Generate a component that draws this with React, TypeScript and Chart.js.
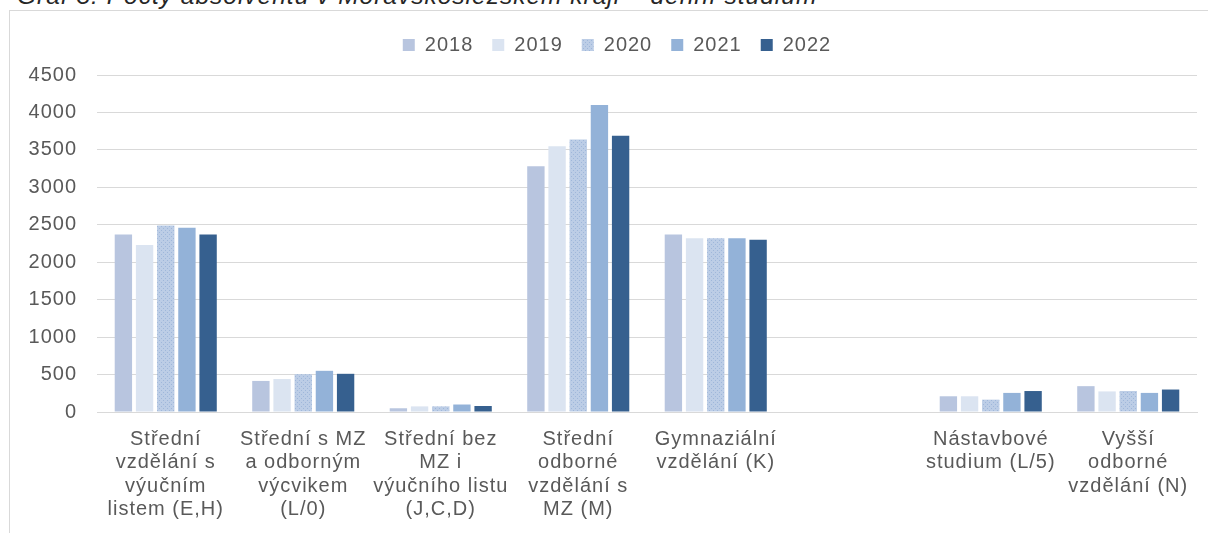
import React, { useEffect, useRef } from 'react';
import { Chart, registerables } from 'chart.js';

Chart.register(...registerables);

const titleText = 'Graf 3: Počty absolventů v Moravskoslezském kraji – denní studium';

const categories: string[][] = [
  ['Střední', 'vzdělání s', 'výučním', 'listem (E,H)'],
  ['Střední s MZ', 'a odborným', 'výcvikem', '(L/0)'],
  ['Střední bez', 'MZ i', 'výučního listu', '(J,C,D)'],
  ['Střední', 'odborné', 'vzdělání s', 'MZ (M)'],
  ['Gymnaziální', 'vzdělání (K)'],
  [''],
  ['Nástavbové', 'studium (L/5)'],
  ['Vyšší', 'odborné', 'vzdělání (N)'],
];

const years = ['2018', '2019', '2020', '2021', '2022'];

const values2018 = [2370, 415, 50, 3280, 2370, null, 210, 345];
const values2019 = [2230, 440, 75, 3550, 2320, null, 210, 275];
const values2020 = [2490, 505, 75, 3640, 2320, null, 165, 280];
const values2021 = [2460, 550, 100, 4100, 2320, null, 255, 255];
const values2022 = [2370, 510, 80, 3690, 2300, null, 280, 300];

const yMin = 0;
const yMax = 4500;
const yStep = 500;

const FONT = "'Liberation Sans', Arial, sans-serif";
const TEXT_COLOR = '#595959';
const GRID_COLOR = '#d9d9d9';

function makeDotPattern(): CanvasPattern | string {
  const c = document.createElement('canvas');
  c.width = 4;
  c.height = 4;
  const g = c.getContext('2d');
  if (!g) return '#b8cbe5';
  g.fillStyle = '#bccde6';
  g.fillRect(0, 0, 4, 4);
  g.fillStyle = '#9fb7da';
  g.fillRect(1, 1, 1, 1);
  g.fillRect(3, 3, 1, 1);
  const p = g.createPattern(c, 'repeat');
  return p || '#b8cbe5';
}

const spacingPlugin = {
  id: 'letterSpacingPlugin',
  beforeUpdate(chart: any) {
    chart.ctx.letterSpacing = '1px';
  },
  afterLayout(chart: any) {
    const lg = chart.legend;
    if (lg) {
      lg.left += 8.5;
      lg.right += 8.5;
    }
  },
  beforeDraw(chart: any) {
    chart.ctx.letterSpacing = '1px';
  },
};

export default function App() {
  const canvasRef = useRef<HTMLCanvasElement | null>(null);

  useEffect(() => {
    const canvas = canvasRef.current;
    if (!canvas) return;
    const pattern2020 = makeDotPattern();
    const seriesValues = [values2018, values2019, values2020, values2021, values2022];
    const colors: any[] = ['#b8c5df', '#dbe4f1', pattern2020, '#93b2d8', '#36608f'];

    const chart = new Chart(canvas, {
      type: 'bar',
      data: {
        labels: categories,
        datasets: years.map((y, i) => ({
          label: y,
          data: seriesValues[i],
          backgroundColor: colors[i],
          borderWidth: 0,
          categoryPercentage: 0.77,
          barPercentage: 0.82,
        })),
      },
      plugins: [spacingPlugin],
      options: {
        responsive: false,
        animation: false,
        devicePixelRatio: 1,
        layout: { padding: { left: 10, right: 11, top: 5, bottom: 0 } },
        plugins: {
          title: { display: false },
          subtitle: {
            display: true,
            text: '',
            position: 'top',
            weight: 500,
            padding: 0,
            font: { family: FONT, size: 10, lineHeight: 1 },
          },
          tooltip: { enabled: false },
          legend: {
            display: true,
            position: 'top',
            labels: {
              boxWidth: 12,
              boxHeight: 12,
              padding: 19,
              color: TEXT_COLOR,
              font: { family: FONT, size: 20 },
            },
          },
        },
        scales: {
          x: {
            grid: { display: false, drawTicks: false },
            border: { display: true, color: GRID_COLOR, width: 1 },
            ticks: {
              color: TEXT_COLOR,
              font: { family: FONT, size: 20, lineHeight: 1.165 },
              padding: 16,
              maxRotation: 0,
              minRotation: 0,
              autoSkip: false,
            },
            afterFit(scale: any) {
              scale.height = 121;
            },
          },
          y: {
            min: yMin,
            max: yMax,
            grid: { color: GRID_COLOR, lineWidth: 1, drawTicks: false },
            border: { display: false },
            ticks: {
              stepSize: yStep,
              color: TEXT_COLOR,
              font: { family: FONT, size: 20 },
              padding: 20,
              callback: (v: any) => String(v),
            },
            afterFit(scale: any) {
              scale.width = 77;
            },
          },
        },
      },
    } as any);

    return () => {
      chart.destroy();
    };
  }, []);

  return (
    <div
      style={{
        position: 'absolute',
        left: 0,
        top: 0,
        width: 1208,
        height: 533,
        overflow: 'hidden',
        background: '#ffffff',
      }}
    >
      <div
        style={{
          position: 'absolute',
          left: 17,
          top: -16,
          fontFamily: FONT,
          fontStyle: 'italic',
          fontSize: 24.5,
          lineHeight: '24px',
          letterSpacing: '1px',
          whiteSpace: 'nowrap',
          color: '#262626',
        }}
      >
        {titleText}
      </div>
      <div
        style={{
          position: 'absolute',
          left: 9,
          top: 10,
          right: 0,
          bottom: 0,
          borderLeft: `1px solid ${GRID_COLOR}`,
          borderTop: `1px solid ${GRID_COLOR}`,
        }}
      />
      <canvas
        ref={canvasRef}
        width={1198}
        height={522}
        style={{ position: 'absolute', left: 10, top: 11, width: 1198, height: 522 }}
      />
    </div>
  );
}
